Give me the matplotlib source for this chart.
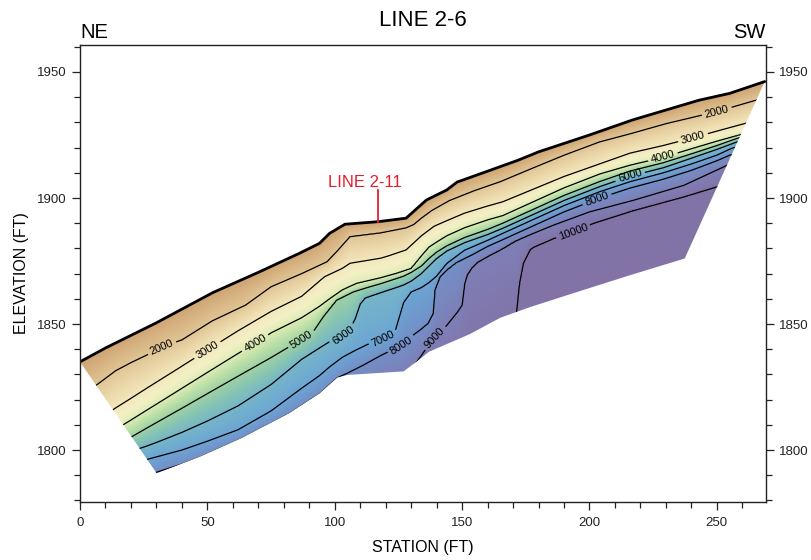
import numpy as np
import matplotlib
matplotlib.use("Agg")
import matplotlib.pyplot as plt
from matplotlib.colors import LinearSegmentedColormap
from matplotlib.patches import Polygon
from matplotlib.ticker import MultipleLocator

plt.rcParams['font.family'] = ['Liberation Sans', 'DejaVu Sans']

# ---------------- data read from the section ----------------
# ground surface (station ft, elevation ft)
surf_x = [0, 10, 30, 52, 70, 86, 94, 98, 104, 117, 128, 136, 144, 148, 161, 172, 180, 200, 217, 243, 255, 268.8]
surf_y = [1835, 1840.5, 1850.5, 1862.4, 1870.5, 1878, 1882, 1886, 1889.6, 1890.6, 1892, 1899.2, 1903.2, 1906.3,
          1911, 1915, 1918.3, 1925, 1931, 1938.8, 1941.5, 1946.2]
# base of the model (left corner -> right corner)
base_x = [0, 30.1, 47, 63, 82, 94, 101, 105, 119, 127, 132, 137, 153, 165, 176, 196, 216, 237.4]
base_y = [1835, 1790.8, 1797.4, 1804.6, 1814.6, 1822.5, 1828.8, 1829.8, 1830.7, 1831.2, 1835, 1839, 1846,
          1852.5, 1856.5, 1863, 1869.4, 1876]

# velocity contours (ft/s): station and elevation of each isoline
v2000_x = [0, 7, 14, 20, 26, 32, 40, 52, 65, 75, 87, 97, 101, 106, 118, 128, 131, 134, 138, 145, 155, 165, 178,
           190, 204, 216, 230, 250, 266, 270]
v2000_y = [1821, 1826.2, 1831.5, 1834.7, 1837.6, 1840.9, 1843.7, 1851.3, 1857.5, 1864.8, 1870, 1874.7, 1879,
           1884.7, 1886.2, 1888.2, 1889.5, 1892, 1895, 1899, 1903, 1906.5, 1912, 1917, 1922.3, 1925.5, 1929.5,
           1934.3, 1939, 1940.2]
v3000_x = [0, 7, 14, 20, 26, 38, 50, 62, 75, 87, 96, 103, 106, 118, 121, 128, 134, 139, 144, 151, 160, 166, 178,
           190, 204, 216, 229, 240, 250, 262, 270]
v3000_y = [1808, 1812, 1816.7, 1820.5, 1824.4, 1832, 1839.7, 1847.3, 1855, 1861, 1868.8, 1872.1, 1874.1, 1876.1,
           1877, 1879.4, 1885, 1888.8, 1891, 1894, 1896.8, 1898.5, 1903.5, 1908.5, 1913.5, 1917.8, 1920.8, 1923.7,
           1926.5, 1929.8, 1932]
v4000_x = [0, 7, 14, 20, 26, 30, 40, 50, 62, 69, 75, 87, 94, 98, 103, 108.6, 118, 124, 130, 134, 137, 140, 144,
           151, 160, 166, 178, 190, 204, 216, 229, 240, 250, 259, 270]
v4000_y = [1800, 1805, 1808.2, 1811.9, 1815.7, 1818.2, 1824.5, 1830.8, 1838.3, 1842.5, 1846.5, 1852.5, 1857, 1860,
           1863.5, 1866.1, 1868.3, 1870, 1872, 1877, 1880.5, 1882.5, 1885, 1888.2, 1891.3, 1893, 1898.5, 1904,
           1909.5, 1913, 1916.1, 1919.5, 1922.5, 1925, 1928]
v5000_x = [0, 7, 14, 20, 26, 30, 40, 50, 62, 75, 81, 87, 92, 95.5, 100.7, 107.3, 113.8, 118, 124, 127, 130, 134,
           137, 140, 144, 151, 160, 166, 178, 190, 204, 216, 229, 240, 250, 258, 270]
v5000_y = [1795, 1800, 1803, 1805.1, 1808.6, 1810.9, 1816.6, 1822.4, 1829.3, 1836.7, 1840.3, 1843.8, 1847.6,
           1852.9, 1859.5, 1862.8, 1864.8, 1866, 1868, 1869, 1870.5, 1873, 1876, 1878.5, 1881, 1884.3, 1887.5,
           1890, 1895.5, 1901, 1906.5, 1910.7, 1914, 1917.5, 1920.8, 1923.7, 1926.5]
v6000_x = [0, 7, 14, 20, 26, 30, 40, 50, 62, 75, 87, 94, 98, 103, 106, 108, 110, 112, 118, 124, 127, 130, 134,
           137, 140, 144, 151, 160, 166, 178, 190, 204, 216, 229, 240, 250, 258, 270]
v6000_y = [1791, 1795, 1797.5, 1799.5, 1801.5, 1803, 1807, 1811.5, 1817.5, 1826, 1836, 1840.5, 1843, 1845, 1848,
           1852, 1858, 1860.4, 1862.5, 1864.5, 1865.5, 1867, 1870, 1873, 1876, 1879, 1882.3, 1885.5, 1888, 1893.5,
           1899, 1904.5, 1908.7, 1912, 1915.8, 1919.3, 1922.3, 1925]
v7000_x = [0, 7, 14, 20, 26, 30, 40, 50, 62, 75, 87, 94, 98, 103, 108, 113.8, 118, 122, 124, 126, 127, 130, 134,
           137, 140, 144, 151, 160, 166, 178, 190, 204, 216, 229, 240, 250, 256, 270]
v7000_y = [1787, 1791, 1793.5, 1795, 1796.2, 1797.3, 1800, 1803.5, 1808, 1815.5, 1824.5, 1829.5, 1833, 1836.8,
           1839.5, 1842.3, 1843.5, 1846, 1848, 1855, 1858.5, 1862.8, 1864.5, 1866.5, 1869, 1874, 1879.3, 1883.2,
           1886, 1891.5, 1897, 1902.5, 1906.5, 1910, 1913.5, 1917, 1919.8, 1923]
v8000_x = [0, 7, 14, 20, 26, 30, 40, 47, 63, 82, 94, 101, 104.7, 111.2, 118, 121, 125.6, 130.8, 134, 136.7, 138.7,
           139.3, 141.3, 144, 147.8, 154, 160, 166, 178, 190, 204, 216, 229, 240, 250, 255, 270]
v8000_y = [1782, 1786, 1788, 1789.5, 1790.5, 1791.2, 1794.5, 1797.2, 1804.4, 1814.4, 1822.3, 1828.7, 1830.4,
           1833.7, 1837.5, 1839, 1841, 1845.6, 1848, 1850.3, 1854.2, 1863.5, 1868.8, 1871.5, 1874.5, 1877.5,
           1880.8, 1883.5, 1889, 1894.5, 1900, 1904, 1907.5, 1911, 1914.8, 1917, 1921]
v9000_x = [0, 30, 40, 63, 82, 94, 101, 105, 118, 127, 130, 134, 137, 139.3, 144, 148, 150, 151, 152, 154, 156, 160,
           166, 171, 178, 186, 200, 217, 237, 254, 270]
v9000_y = [1772, 1781, 1785, 1795, 1805, 1813, 1819, 1821, 1827, 1829, 1832, 1837.5, 1842, 1844.3, 1849.5,
           1854.5, 1857.5, 1866, 1869.5, 1872.5, 1874.5, 1876.8, 1880, 1883, 1886, 1889.3, 1894.5, 1899, 1905,
           1913, 1919]
v10000_x = [0, 30, 63, 94, 118, 137, 153, 165, 171, 172.5, 174, 176.6, 178, 186, 194, 201.5, 217, 237, 250, 270]
v10000_y = [1760, 1772, 1786, 1803, 1815, 1825, 1836, 1846, 1851, 1866, 1874, 1879.4, 1880.5, 1884, 1886.8,
            1890, 1895, 1900.5, 1904.5, 1911]

surface_velocity = 1000
contour_levels = [2000, 3000, 4000, 5000, 6000, 7000, 8000, 9000, 10000]
isolines = [(v2000_x, v2000_y), (v3000_x, v3000_y), (v4000_x, v4000_y), (v5000_x, v5000_y),
            (v6000_x, v6000_y), (v7000_x, v7000_y), (v8000_x, v8000_y), (v9000_x, v9000_y),
            (v10000_x, v10000_y)]

# contour label positions (station, elevation)
label_pos = {
    2000: [(32, 1841), (250, 1934.3)],
    3000: [(50, 1839.7), (240.7, 1923.7)],
    4000: [(68.7, 1842.5), (228.9, 1916.1)],
    5000: [(87, 1843.7)],
    6000: [(103.3, 1845.5), (215.9, 1908.7)],
    7000: [(118.7, 1844.5)],
    8000: [(125.8, 1842), (202.8, 1899.9)],
    9000: [(139.3, 1844.5)],
    10000: [(193.6, 1886.6)],
}

# ---------------- gridding of the isolines ----------------
gx = np.linspace(0, 270, 811)
gy = np.linspace(1776, 1964, 565)
vals = [surface_velocity] + contour_levels + [11000]
E = [np.interp(gx, surf_x, surf_y)]
for lx, ly in isolines:
    E.append(np.interp(gx, lx, ly))
E.append(E[-1] - 40)
E = np.array(E)
for i in range(1, len(E)):
    E[i] = np.minimum(E[i], E[i - 1] - 0.05)
vals = np.array(vals, dtype=float)
V = np.empty((len(gy), len(gx)))
for j in range(len(gx)):
    V[:, j] = np.interp(gy, E[::-1, j], vals[::-1])

# ---------------- colours ----------------
anchors = [
    (1000, '#cfa474'), (1500, '#d8b684'), (2000, '#e1c596'), (2500, '#ebd8aa'),
    (3000, '#f3e8bc'), (3500, '#f4f0c6'), (4000, '#dcecb4'), (4500, '#bce0a8'),
    (5000, '#9ed1a4'), (5500, '#86c4b3'), (6000, '#76b6c8'), (7000, '#6ca5d4'),
    (8000, '#738fc7'), (9000, '#7e7fb6'), (10000, '#8274a8'), (11000, '#8272a5'),
]
vmin, vmax = 1000, 11000
cmap = LinearSegmentedColormap.from_list(
    'vel', [((v - vmin) / (vmax - vmin), c) for v, c in anchors])

# ---------------- figure ----------------
fig = plt.figure(figsize=(8.12, 5.6), dpi=100)
ax = fig.add_axes([80 / 812, 1 - 502 / 560, (766 - 80) / 812, (502 - 45) / 560])

poly_x = list(surf_x) + list(base_x[::-1])
poly_y = list(surf_y) + list(base_y[::-1])
clip = Polygon(np.column_stack([poly_x, poly_y]), closed=True, transform=ax.transData,
               facecolor='none', edgecolor='none')

im = ax.imshow(V, extent=(gx[0], gx[-1], gy[0], gy[-1]), origin='lower', cmap=cmap,
               vmin=vmin, vmax=vmax, aspect='auto', interpolation='bilinear')
im.set_clip_path(clip)

for lev in contour_levels:
    cs = ax.contour(gx, gy, V, levels=[lev], colors='k', linewidths=0.9)
    cs.set_clip_path(clip)
    cs.clabel(manual=label_pos[lev], fmt='%d', fontsize=8, inline=True, inline_spacing=3)

ax.plot(surf_x, surf_y, color='k', lw=2.0, solid_capstyle='round')

# LINE 2-11 marker
ax.plot([117.1, 117.1], [1890.4, 1903.0], color='#e41e2b', lw=1.3)
ax.text(111.9, 1906.3, 'LINE 2-11', color='#e41e2b', fontsize=12, ha='center', va='center')

ax.set_xlim(0, 269.3)
ax.set_ylim(1779.4, 1960.7)
ax.xaxis.set_major_locator(MultipleLocator(50))
ax.xaxis.set_minor_locator(MultipleLocator(10))
ax.yaxis.set_major_locator(MultipleLocator(50))
ax.yaxis.set_minor_locator(MultipleLocator(10))
ax.tick_params(axis='both', which='both', direction='out', width=0.9, colors='#222222', labelsize=9.5)
ax.tick_params(axis='both', which='major', length=6)
ax.tick_params(axis='both', which='minor', length=4.5)
ax.tick_params(axis='x', which='major', pad=5)
ax.tick_params(axis='y', which='both', left=True, right=True, labelleft=True, labelright=True)
ax.tick_params(axis='x', which='both', top=False)
for s in ax.spines.values():
    s.set_linewidth(1.0)
    s.set_color('#222222')

ax.set_xlabel('STATION (FT)', fontsize=11.5, labelpad=8)
ax.set_ylabel('ELEVATION (FT)', fontsize=11.5, labelpad=6)
fig.text(423 / 812, 1 - 20 / 560, 'LINE 2-6', fontsize=16, ha='center', va='center')
fig.text(80 / 812, 1 - 33 / 560, 'NE', fontsize=14.5, ha='left', va='center')
fig.text(766 / 812, 1 - 33 / 560, 'SW', fontsize=14.5, ha='right', va='center')

fig.savefig('out.png', dpi=100)
